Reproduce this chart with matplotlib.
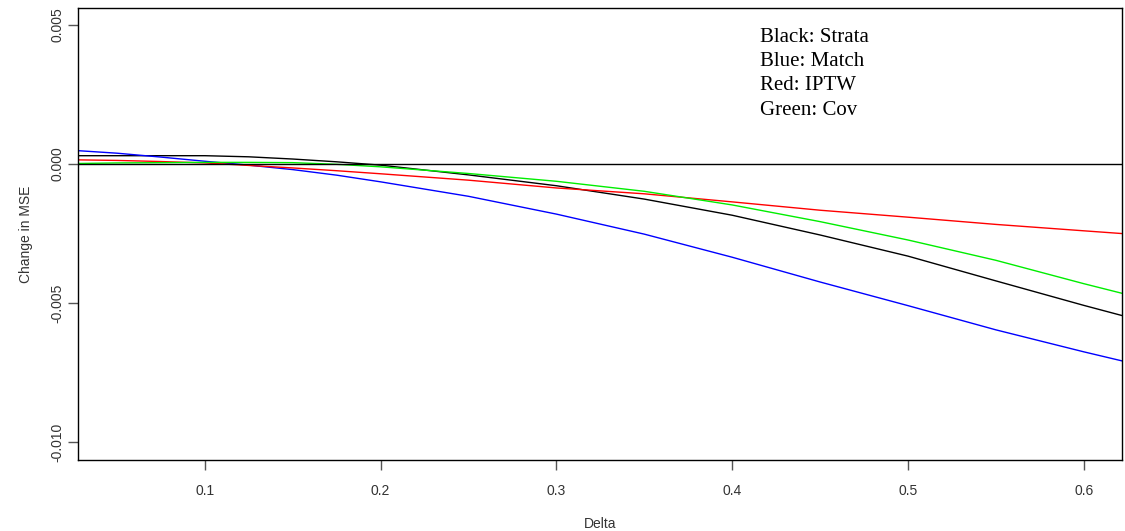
import matplotlib
matplotlib.use("Agg")
import matplotlib.pyplot as plt

# Change in MSE as a function of Delta for four estimators
delta = [0.028, 0.05, 0.075, 0.10, 0.125, 0.15, 0.175, 0.20, 0.25, 0.30, 0.35, 0.40,
         0.45, 0.50, 0.55, 0.60, 0.622]
strata = [0.00030, 0.00030, 0.00030, 0.00030, 0.00026, 0.00018, 0.00008, -0.00004,
          -0.00039, -0.00078, -0.00126, -0.00184, -0.00255, -0.00331, -0.00420,
          -0.00508, -0.00545]
match = [0.00048, 0.00039, 0.00025, 0.00010, -0.00004, -0.00020, -0.00040, -0.00064,
         -0.00116, -0.00180, -0.00252, -0.00335, -0.00424, -0.00509, -0.00596,
         -0.00675, -0.00708]
iptw = [0.00015, 0.00013, 0.00009, 0.00004, -0.00005, -0.00014, -0.00024, -0.00035,
        -0.00058, -0.00086, -0.00107, -0.00136, -0.00166, -0.00191, -0.00217,
        -0.00240, -0.00250]
cov = [0.00002, 0.00004, 0.00005, 0.00006, 0.00006, 0.00005, -0.00001, -0.00010,
       -0.00034, -0.00062, -0.00098, -0.00147, -0.00207, -0.00273, -0.00346,
       -0.00430, -0.00465]

x_ticks = [0.1, 0.2, 0.3, 0.4, 0.5, 0.6]
x_tick_labels = ["0.1", "0.2", "0.3", "0.4", "0.5", "0.6"]
y_ticks = [0.005, 0.0, -0.005, -0.010]
y_tick_labels = ["0.005", "0.000", "-0.005", "-0.010"]
key_lines = ["Black: Strata", "Blue: Match", "Red: IPTW", "Green: Cov"]

W, H = 1125, 531
fig = plt.figure(figsize=(W / 100, H / 100), dpi=100)
ax = fig.add_axes([78 / W, 1 - 460 / H, (1122 - 78) / W, (460 - 8) / H])

ax.plot(delta, strata, color="black", lw=1)
ax.plot(delta, match, color="blue", lw=1)
ax.plot(delta, iptw, color="red", lw=1)
ax.plot(delta, cov, color="#00ee00", lw=1)
ax.axhline(0, color="black", lw=1)

ax.set_xlim(0.0278, 0.6218)
ax.set_ylim(-0.01064, 0.00561)

tick_font = dict(family=["Liberation Sans", "DejaVu Sans"], size=10, color="#333333")
ax.set_xticks(x_ticks)
ax.set_xticklabels(x_tick_labels, **tick_font)
ax.set_yticks(y_ticks)
ax.set_yticklabels(y_tick_labels, rotation=90, va="center", **tick_font)
ax.tick_params(axis="both", direction="out", length=7, width=1, color="#555555")
ax.tick_params(axis="x", pad=10)
ax.tick_params(axis="y", pad=3)

for s in ax.spines.values():
    s.set_linewidth(1)
    s.set_color("black")

ax.set_xlabel("Delta", labelpad=14, **tick_font)
ax.set_ylabel("Change in MSE", labelpad=12, **tick_font)

# Key text in the upper part of the panel
for i, line in enumerate(key_lines):
    ypix = 37 + i * 24.5
    ax.text((760 - 78) / 1044, (460 - ypix) / 452, line, transform=ax.transAxes,
            ha="left", va="center", fontsize=15,
            family=["Liberation Serif", "DejaVu Serif"], color="black")

fig.savefig("out.png", dpi=100)
